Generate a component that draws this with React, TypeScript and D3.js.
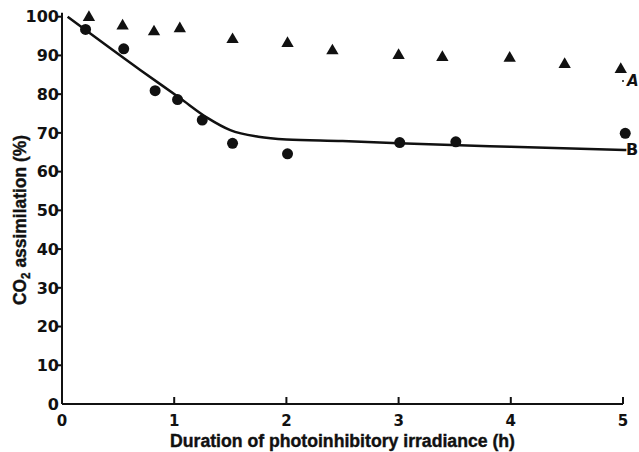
import React from "react";
import * as d3 from "d3";

// Duration of photoinhibitory irradiance (h) and CO2 assimilation (%)
const seriesAHours = [0.24, 0.54, 0.82, 1.05, 1.52, 2.01, 2.41, 3.0, 3.39, 3.99, 4.48, 4.98];
const seriesAValues = [99.8, 97.6, 96.1, 96.9, 94.1, 93.1, 91.2, 90.0, 89.5, 89.3, 87.7, 86.4];

const seriesBHours = [0.21, 0.55, 0.83, 1.03, 1.25, 1.52, 2.01, 3.01, 3.51, 5.02];
const seriesBValues = [96.7, 91.7, 80.9, 78.6, 73.3, 67.3, 64.6, 67.5, 67.7, 69.9];

// fitted curve through series B
const fitHours = [0.05, 0.7, 1.05, 1.3, 1.5, 1.75, 2.0, 2.5, 3.0, 4.0, 5.03];
const fitValues = [100, 86.2, 79.0, 73.8, 70.7, 69.0, 68.3, 67.9, 67.3, 66.4, 65.6];

const xTicks = [0, 1, 2, 3, 4, 5];
const yTicks = [0, 10, 20, 30, 40, 50, 60, 70, 80, 90, 100];

const W = 639;
const H = 452;
const INK = "#111";

export default function App() {
  const x = d3.scaleLinear().domain([0, 5]).range([62, 623]);
  const y = d3.scaleLinear().domain([0, 100]).range([404, 16.7]);

  const fitLine = d3
    .line<number>()
    .x((_, i) => x(fitHours[i]))
    .y((v) => y(v))
    .curve(d3.curveMonotoneX)(fitValues);

  const tri = d3.symbol(d3.symbolTriangle, 66)();

  const x0 = x(0);
  const y0 = y(0);

  const titleStyle = {
    fontFamily: "Liberation Sans",
    fontWeight: "bold" as const,
    fontSize: 18,
    fill: INK,
    stroke: INK,
    strokeWidth: 0.4,
  };

  return (
    <div style={{ position: "absolute", left: 0, top: 0 }}>
      <svg width={W} height={H} style={{ display: "block", background: "#fff" }}>
        {/* axes */}
        <line x1={x0} y1={y0} x2={x0} y2={y(100) - 4} stroke={INK} strokeWidth={2} />
        <line x1={x0} y1={y0} x2={x(5)} y2={y0} stroke={INK} strokeWidth={2} />

        {yTicks.map((t) => (
          <g key={"y" + t}>
            {t > 0 && (
              <line x1={x0 - 5} x2={x0} y1={y(t)} y2={y(t)} stroke={INK} strokeWidth={2} />
            )}
            <text
              x={x0 - 3}
              y={y(t)}
              dy="0.36em"
              textAnchor="end"
              fontFamily="DejaVu Sans"
              fontWeight="bold"
              fontSize={16}
              fill={INK}
            >
              {t}
            </text>
          </g>
        ))}

        {xTicks.map((t) => (
          <g key={"x" + t}>
            {t > 0 && (
              <line x1={x(t)} x2={x(t)} y1={y0} y2={y0 - 7} stroke={INK} strokeWidth={2} />
            )}
            <text
              x={x(t)}
              y={426}
              textAnchor="middle"
              fontFamily="DejaVu Sans"
              fontWeight="bold"
              fontSize={15}
              fill={INK}
            >
              {t}
            </text>
          </g>
        ))}

        {/* axis titles */}
        <text x={170} y={447} textLength={345} lengthAdjust="spacingAndGlyphs" {...titleStyle}>
          Duration of photoinhibitory irradiance (h)
        </text>
        <text
          transform="translate(26,305) rotate(-90)"
          textLength={170}
          lengthAdjust="spacingAndGlyphs"
          {...titleStyle}
        >
          CO
          <tspan fontSize={12} dy={4}>
            2
          </tspan>
          <tspan dy={-4}> assimilation (%)</tspan>
        </text>

        {/* fitted curve B */}
        <path d={fitLine ?? ""} fill="none" stroke={INK} strokeWidth={2.5} />

        {/* series A: triangles */}
        {seriesAValues.map((v, i) => (
          <path
            key={"a" + i}
            d={tri ?? ""}
            transform={`translate(${x(seriesAHours[i])},${y(v)})`}
            fill={INK}
          />
        ))}

        {/* series B: circles */}
        {seriesBValues.map((v, i) => (
          <circle key={"b" + i} cx={x(seriesBHours[i])} cy={y(v)} r={5.5} fill={INK} />
        ))}

        {/* curve labels */}
        <circle cx={623} cy={81} r={1} fill={INK} />
        <text x={627} y={86} fontFamily="DejaVu Sans" fontWeight="bold" fontStyle="italic" fontSize={15} fill={INK}>
          A
        </text>
        <text x={626} y={155} fontFamily="DejaVu Sans" fontWeight="bold" fontSize={16} fill={INK}>
          B
        </text>
      </svg>
    </div>
  );
}
